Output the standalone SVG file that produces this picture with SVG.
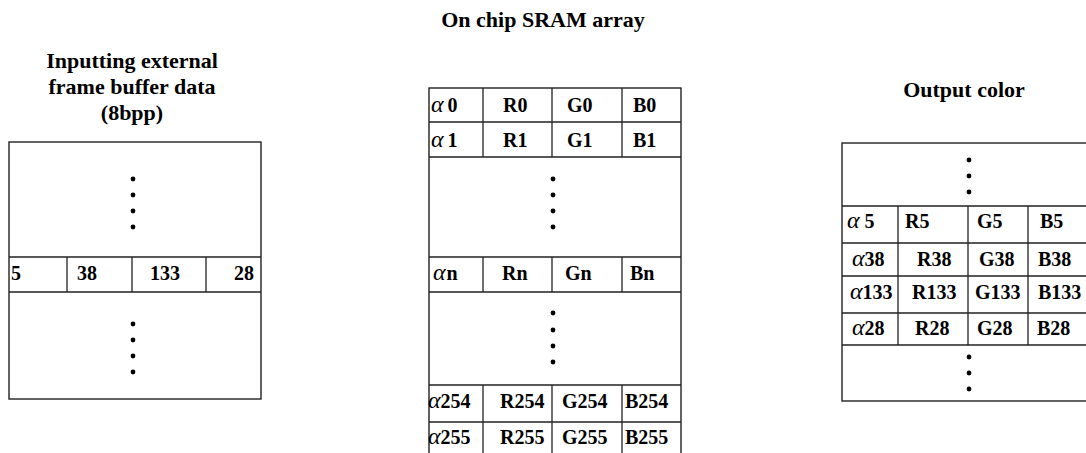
<svg xmlns="http://www.w3.org/2000/svg" width="1086" height="453" viewBox="0 0 1086 453">
<style>
.bg{fill:#fff}
.box{fill:#fff;stroke:#222;stroke-width:1.4}
.ln{stroke:#222;stroke-width:1.3;fill:none}
.title{font-family:"Liberation Serif",serif;font-weight:bold;font-size:22px;fill:#000;text-anchor:middle}
.t{font-family:"Liberation Serif",serif;font-weight:bold;font-size:20px;fill:#000}
.a{font-style:italic;font-weight:normal;font-size:24px}
.dot{fill:#000}
</style>
<rect class="bg" x="0" y="0" width="1086" height="453"/>

<g id="title-input">
<text class="title" x="132" y="68">Inputting external</text>
<text class="title" x="132" y="94">frame buffer data</text>
<text class="title" x="132" y="120">(8bpp)</text>
</g>

<g id="frame-buffer">
<rect class="box" x="9" y="142" width="252" height="257"/>
<path class="ln" d="M9 257H261M9 292H261M67 257V292M132 257V292M206 257V292"/>
<circle class="dot" cx="133" cy="179" r="2.4"/>
<circle class="dot" cx="133" cy="195" r="2.4"/>
<circle class="dot" cx="133" cy="211" r="2.4"/>
<circle class="dot" cx="133" cy="227" r="2.4"/>
<circle class="dot" cx="133" cy="324" r="2.4"/>
<circle class="dot" cx="133" cy="340" r="2.4"/>
<circle class="dot" cx="133" cy="356" r="2.4"/>
<circle class="dot" cx="133" cy="372" r="2.4"/>
<text class="t" x="11" y="280">5</text>
<text class="t" x="77" y="280">38</text>
<text class="t" x="150" y="280">133</text>
<text class="t" x="254" y="280" text-anchor="end">28</text>
</g>

<g id="title-sram">
<text class="title" x="543" y="27">On chip SRAM array</text>
</g>

<g id="sram-array">
<rect class="box" x="429" y="88" width="252" height="380"/>
<path class="ln" d="M429 122H681M429 157H681M429 257H681M429 292H681M429 385H681M429 422H681M483 88V157M552 88V157M622 88V157M483 257V292M552 257V292M622 257V292M483 385V460M552 385V460M622 385V460"/>
<circle class="dot" cx="553" cy="179" r="2.4"/>
<circle class="dot" cx="553" cy="195" r="2.4"/>
<circle class="dot" cx="553" cy="211" r="2.4"/>
<circle class="dot" cx="553" cy="227" r="2.4"/>
<circle class="dot" cx="553" cy="313" r="2.4"/>
<circle class="dot" cx="553" cy="330" r="2.4"/>
<circle class="dot" cx="553" cy="346" r="2.4"/>
<circle class="dot" cx="553" cy="362" r="2.4"/>
<text class="t" x="431" y="112"><tspan class="a">α</tspan><tspan dx="4">0</tspan></text>
<text class="t" x="503" y="112">R0</text>
<text class="t" x="567" y="112">G0</text>
<text class="t" x="633" y="112">B0</text>
<text class="t" x="431" y="147"><tspan class="a">α</tspan><tspan dx="4">1</tspan></text>
<text class="t" x="503" y="147">R1</text>
<text class="t" x="567" y="147">G1</text>
<text class="t" x="633" y="147">B1</text>
<text class="t" x="433" y="280"><tspan class="a">α</tspan><tspan dx="1">n</tspan></text>
<text class="t" x="502" y="280">Rn</text>
<text class="t" x="565" y="280">Gn</text>
<text class="t" x="630" y="280">Bn</text>
<text class="t" x="428" y="408"><tspan class="a">α</tspan>254</text>
<text class="t" x="500" y="408">R254</text>
<text class="t" x="562" y="408">G254</text>
<text class="t" x="625" y="408">B254</text>
<text class="t" x="428" y="444"><tspan class="a">α</tspan>255</text>
<text class="t" x="500" y="444">R255</text>
<text class="t" x="562" y="444">G255</text>
<text class="t" x="625" y="444">B255</text>
</g>

<g id="title-output">
<text class="title" x="964" y="97">Output color</text>
</g>

<g id="output-color">
<rect class="box" x="842" y="143" width="260" height="258"/>
<path class="ln" d="M842 206H1090M842 243H1090M842 276H1090M842 313H1090M842 345H1090M898 206V345M968 206V345M1028 206V345"/>
<circle class="dot" cx="969" cy="160" r="2.4"/>
<circle class="dot" cx="969" cy="176" r="2.4"/>
<circle class="dot" cx="969" cy="192" r="2.4"/>
<circle class="dot" cx="969" cy="357" r="2.4"/>
<circle class="dot" cx="969" cy="373" r="2.4"/>
<circle class="dot" cx="969" cy="389" r="2.4"/>
<text class="t" x="847" y="228"><tspan class="a">α</tspan> 5</text>
<text class="t" x="905" y="228">R5</text>
<text class="t" x="977" y="228">G5</text>
<text class="t" x="1040" y="228">B5</text>
<text class="t" x="852" y="266"><tspan class="a">α</tspan>38</text>
<text class="t" x="917" y="266">R38</text>
<text class="t" x="979" y="266">G38</text>
<text class="t" x="1038" y="266">B38</text>
<text class="t" x="850" y="299"><tspan class="a">α</tspan>133</text>
<text class="t" x="912" y="299">R133</text>
<text class="t" x="975" y="299">G133</text>
<text class="t" x="1038" y="299">B133</text>
<text class="t" x="852" y="335"><tspan class="a">α</tspan>28</text>
<text class="t" x="915" y="335">R28</text>
<text class="t" x="977" y="335">G28</text>
<text class="t" x="1037" y="335">B28</text>
</g>

<g id="connectors"/>
</svg>
